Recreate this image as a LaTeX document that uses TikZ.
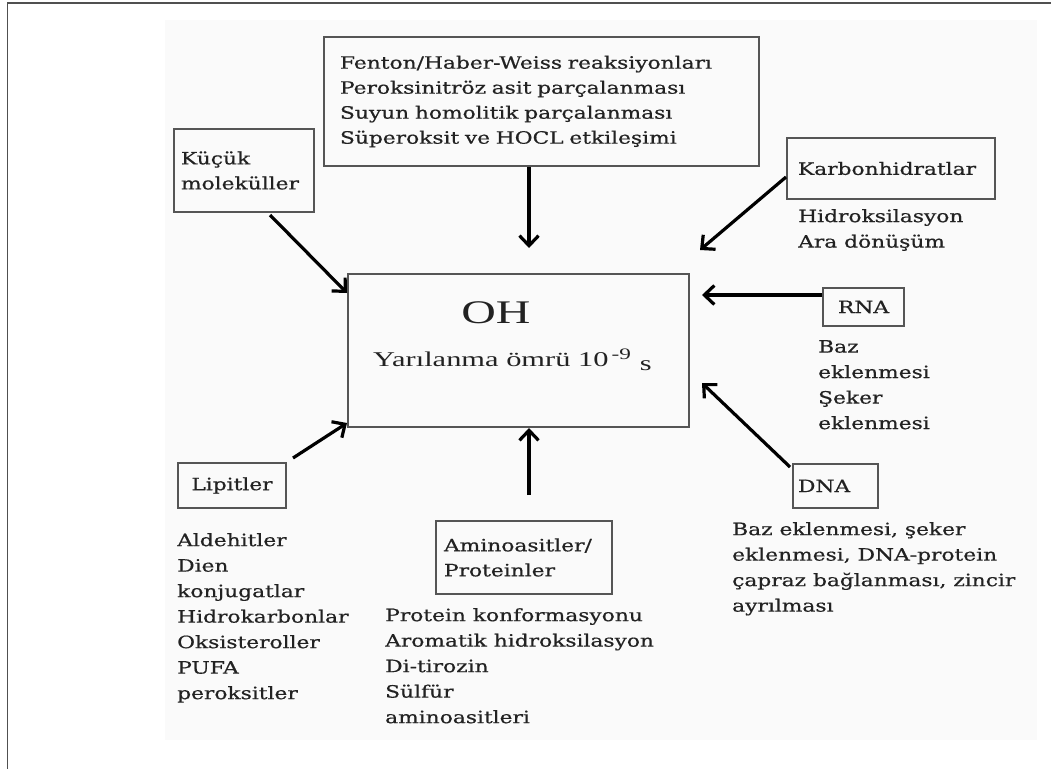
\documentclass[tikz,border=0pt]{standalone}
\usepackage{fontspec}
\usetikzlibrary{arrows.meta}
\newfontfamily\slab[FakeStretch=1.28,FakeBold=0.6]{DejaVu Serif}
\newfontfamily\tnr[FakeStretch=1.45]{Liberation Serif}
\definecolor{frameline}{HTML}{505050}
\definecolor{boxline}{HTML}{555555}
\definecolor{paper}{HTML}{FAFAFA}
\definecolor{txt}{HTML}{222222}
\tikzset{
  box/.style={draw=boxline, line width=2pt, inner xsep=8pt, inner ysep=0pt, align=left, anchor=north west, text=txt, font=\slab\fontsize{17}{25}\selectfont},
  free/.style={inner sep=0pt, align=left, anchor=north west, text=txt, font=\slab\fontsize{17}{25.5}\selectfont},
  arr/.style={line width=3.2pt, -{Straight Barb[length=10pt,width=19pt,line width=3.2pt]}}
}
\begin{document}
\begin{tikzpicture}[x=1pt,y=-1pt]
\useasboundingbox (0,0) rectangle (1051,769);
\fill[paper] (165,20) rectangle (1037,740);
\draw[frameline, line width=1.3pt] (1051,3) -- (7.5,3) -- (7.5,769);

% central box
\node[draw=boxline, line width=2pt, minimum width=341pt, minimum height=153pt, anchor=north west, inner sep=0pt] (oh) at (347,273) {};
\node[font=\tnr\fontsize{33}{33}\selectfont, text=txt, inner sep=0pt] (ohlabel) at (496,313) {OH};
\node[font=\tnr\fontsize{21}{21}\selectfont, text=txt, inner sep=0pt, anchor=base west] (life) at (373,366) {Yarılanma ömrü 10\hspace{3pt}\raisebox{7pt}{\fontsize{16}{16}\selectfont -9}\hspace{9pt}\raisebox{-4pt}{s}};

% boxes
\node[box, text width=403pt, inner xsep=16pt, minimum height=129pt] (fenton) at (323,36) {Fenton/Haber-Weiss reaksiyonları\\Peroksinitröz asit parçalanması\\Suyun homolitik parçalanması\\Süperoksit ve HOCL etkileşimi};
\node[box, text width=126pt, inner xsep=7pt, minimum height=83pt] (kucuk) at (173,128) {Küçük\\moleküller};
\node[box, text width=186pt, inner xsep=11pt, minimum height=61pt] (karb) at (786,137) {Karbonhidratlar};
\node[box, text width=65pt, minimum height=38pt, align=center] (rna) at (822,287) {RNA};
\node[box, text width=75pt, minimum height=44pt, inner xsep=5pt] (dna) at (792,463) {DNA};
\node[box, text width=92pt, minimum height=45pt, align=center] (lip) at (177,462) {Lipitler};
\node[box, text width=160pt, minimum height=73pt] (amino) at (435,520) {Aminoasitler/\\Proteinler};

% free texts
\node[free] (karbtxt) at (798,209) {Hidroksilasyon\\Ara dönüşüm};
\node[free] (rnatxt) at (818,340) {Baz\\eklenmesi\\Şeker\\eklenmesi};
\node[free] (dnatxt) at (732,522) {Baz eklenmesi, şeker\\eklenmesi, DNA-protein\\çapraz bağlanması, zincir\\ayrılması};
\node[free] (liptxt) at (177,533) {Aldehitler\\Dien\\konjugatlar\\Hidrokarbonlar\\Oksisteroller\\PUFA\\peroksitler};
\node[free] (aminotxt) at (385,608) {Protein konformasyonu\\Aromatik hidroksilasyon\\Di-tirozin\\Sülfür\\aminoasitleri};

% arrow end points
\coordinate (fentonE) at (529,248);
\coordinate (kucukS) at (270,215);
\coordinate (kucukE) at (347,293);
\coordinate (karbS) at (786,177);
\coordinate (karbE) at (700,250);
\coordinate (rnaE) at (702,295);
\coordinate (dnaS) at (790,467);
\coordinate (dnaE) at (702,383);
\coordinate (lipS) at (293,458);
\coordinate (lipE) at (347,423);
\coordinate (aminoS) at (529,495);
\coordinate (aminoE) at (529,428);

\draw[arr] (fenton.south -| fentonE) -- (fentonE);
\draw[arr] (kucukS) -- (kucukE);
\draw[arr] (karbS) -- (karbE);
\draw[arr] (rna.west |- rnaE) -- (rnaE);
\draw[arr] (dnaS) -- (dnaE);
\draw[arr] (lipS) -- (lipE);
\draw[arr] (aminoS) -- (aminoE);
\end{tikzpicture}
\end{document}
